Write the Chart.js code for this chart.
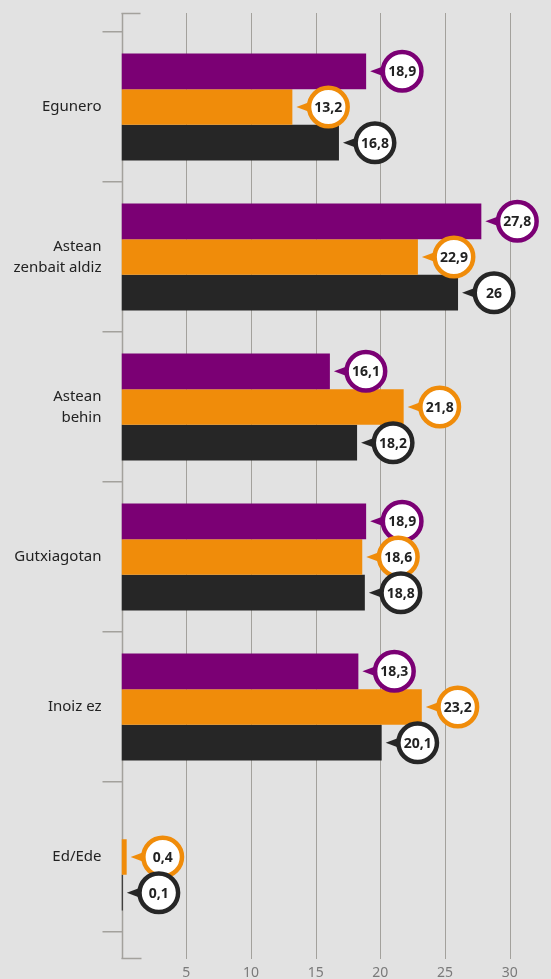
<!DOCTYPE html>
<html lang="eu">
<head>
<meta charset="UTF-8">
<title>Maiztasuna</title>
<script src="https://cdn.jsdelivr.net/npm/chart.js"></script>
<style>
  body { margin: 0; background: #e2e2e2; }
  canvas { display: block; }
</style>
</head>
<body>
<canvas id="chart" width="551" height="979"></canvas>
<script>
// data
const categories = [['Egunero'], ['Astean', 'zenbait aldiz'], ['Astean', 'behin'], ['Gutxiagotan'], ['Inoiz ez'], ['Ed/Ede']];
const purpleValues = [18.9, 27.8, 16.1, 18.9, 18.3, null];
const orangeValues = [13.2, 22.9, 21.8, 18.6, 23.2, 0.4];
const darkValues = [16.8, 26, 18.2, 18.8, 20.1, 0.1];
const xTicks = [0, 5, 10, 15, 20, 25, 30];

const colors = ['#7b0074', '#f08c0a', '#262626'];
const gridColor = '#a3a19c';

Chart.defaults.font.family = "'Noto Sans', sans-serif";

// vertical grid lines that run past the bars, plus the little caps
const gridPlugin = {
  id: 'grid',
  beforeDatasetsDraw(chart) {
    const { ctx, chartArea, scales } = chart;
    const top = chartArea.top - 19, bottom = chartArea.bottom + 27;
    ctx.save();
    ctx.strokeStyle = gridColor;
    xTicks.forEach(v => {
      const x = Math.round(scales.x.getPixelForValue(v)) + 0.5;
      ctx.lineWidth = v === 0 ? 1.5 : 1;
      ctx.beginPath();
      ctx.moveTo(x, top);
      ctx.lineTo(x, bottom);
      ctx.stroke();
    });
    const x0 = scales.x.getPixelForValue(0);
    ctx.lineWidth = 1.5;
    ctx.beginPath();
    ctx.moveTo(x0, top + 0.5); ctx.lineTo(x0 + 19, top + 0.5);
    ctx.moveTo(x0, bottom - 0.5); ctx.lineTo(x0 + 20, bottom - 0.5);
    ctx.stroke();
    ctx.restore();
  }
};

// round callouts with a pointer next to each bar end
const calloutPlugin = {
  id: 'callouts',
  afterDatasetsDraw(chart) {
    const { ctx } = chart;
    ctx.save();
    chart.data.datasets.forEach((ds, i) => {
      const meta = chart.getDatasetMeta(i);
      meta.data.forEach((bar, j) => {
        const v = ds.data[j];
        if (v === null || v === undefined) return;
        const tip = bar.x + 4;
        const cx = bar.x + 36;
        const cy = bar.y;
        ctx.fillStyle = colors[i];
        ctx.beginPath();
        ctx.moveTo(tip, cy);
        ctx.lineTo(cx - 16, cy - 6);
        ctx.lineTo(cx - 16, cy + 6);
        ctx.closePath();
        ctx.fill();
        ctx.beginPath();
        ctx.arc(cx, cy, 19.3, 0, Math.PI * 2);
        ctx.fillStyle = '#ffffff';
        ctx.fill();
        ctx.lineWidth = 4.5;
        ctx.strokeStyle = colors[i];
        ctx.stroke();
        ctx.fillStyle = '#222222';
        ctx.font = "bold 14px 'Noto Sans', sans-serif";
        ctx.textAlign = 'center';
        ctx.textBaseline = 'middle';
        ctx.fillText(String(v).replace('.', ','), cx, cy + 1);
      });
    });
    ctx.restore();
  }
};

new Chart(document.getElementById('chart'), {
  type: 'bar',
  data: {
    labels: categories,
    datasets: [
      { data: purpleValues, backgroundColor: colors[0] },
      { data: orangeValues, backgroundColor: colors[1] },
      { data: darkValues, backgroundColor: colors[2] }
    ]
  },
  options: {
    indexAxis: 'y',
    responsive: false,
    animation: false,
    layout: { padding: { top: 32, right: 2, left: 0, bottom: 0 } },
    datasets: { bar: { categoryPercentage: 0.714, barPercentage: 1, borderSkipped: false } },
    plugins: { legend: { display: false }, tooltip: { enabled: false } },
    scales: {
      x: {
        min: 0,
        max: 33,
        afterFit(s) { s.height = 47; },
        afterBuildTicks(s) { s.ticks = xTicks.map(v => ({ value: v })); },
        grid: { display: false, drawTicks: false },
        border: { display: false },
        ticks: {
          padding: 33,
          color: '#7a7a7a',
          font: { size: 14 },
          callback: v => (v === 0 ? '' : v)
        }
      },
      y: {
        afterFit(s) { s.width = 121.5; },
        grid: { offset: true, drawOnChartArea: false, tickLength: 19, color: gridColor, lineWidth: 1.5 },
        border: { display: false },
        ticks: { padding: 1, color: '#222222', font: { size: 15, lineHeight: 1.4 } }
      }
    }
  },
  plugins: [gridPlugin, calloutPlugin]
});
</script>
</body>
</html>
